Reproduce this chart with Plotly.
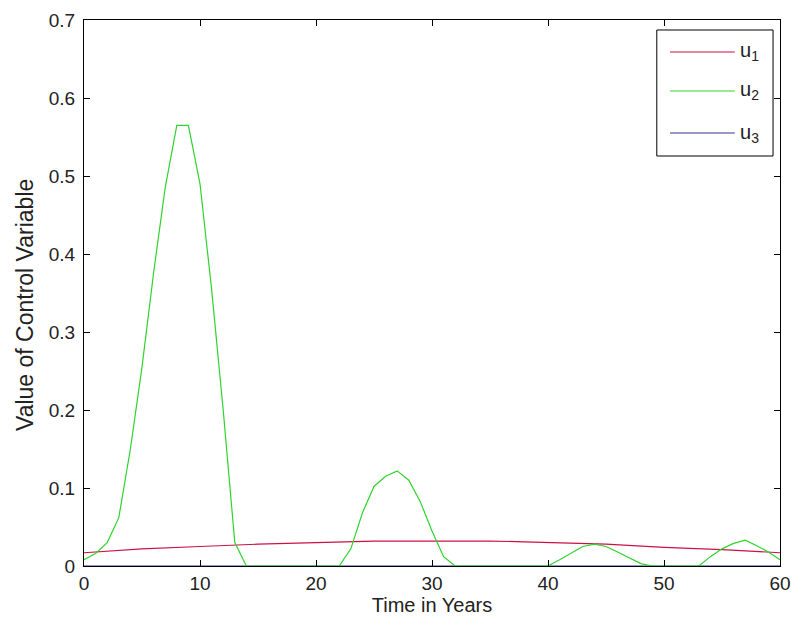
import plotly.graph_objects as go

# ---- data ----
t_u1 = [0, 2, 5, 10, 15, 20, 25, 30, 35, 38, 40, 45, 50, 55, 60]
u1 = [0.017, 0.019, 0.022, 0.025, 0.028, 0.030, 0.032, 0.032, 0.032, 0.031, 0.030, 0.028, 0.024, 0.021, 0.017]

t_u2 = list(range(0, 61))
u2 = [0.008, 0.016, 0.030, 0.062, 0.150, 0.255, 0.376, 0.485, 0.565, 0.565,
      0.490, 0.355, 0.200, 0.030, 0.0, 0.0, 0.0, 0.0, 0.0, 0.0,
      0.0, 0.0, 0.0, 0.022, 0.068, 0.102, 0.115, 0.122, 0.110, 0.082,
      0.045, 0.012, 0.0, 0.0, 0.0, 0.0, 0.0, 0.0, 0.0, 0.0,
      0.0, 0.008, 0.017, 0.025, 0.028, 0.025, 0.018, 0.010, 0.003, 0.0,
      0.0, 0.0, 0.0, 0.0, 0.012, 0.022, 0.029, 0.033, 0.026, 0.018,
      0.008]

t_u3 = [0, 60]
u3 = [0.0, 0.0]

x_ticks = [0, 10, 20, 30, 40, 50, 60]
y_ticks = [0, 0.1, 0.2, 0.3, 0.4, 0.5, 0.6, 0.7]
y_tick_text = ["0", "0.1", "0.2", "0.3", "0.4", "0.5", "0.6", "0.7"]

names = ["u<sub>1</sub>", "u<sub>2</sub>", "u<sub>3</sub>"]
colors = ["#cc1144", "#2ed42e", "#30309a"]

FONT = "Liberation Sans, Arial, sans-serif"
TXT = "#222222"

fig = go.Figure()
fig.add_trace(go.Scatter(x=t_u3, y=u3, mode="lines", line=dict(color=colors[2], width=1.2), name=names[2]))
fig.add_trace(go.Scatter(x=t_u1, y=u1, mode="lines", line=dict(color=colors[0], width=1.2), name=names[0]))
fig.add_trace(go.Scatter(x=t_u2, y=u2, mode="lines", line=dict(color=colors[1], width=1.2), name=names[1]))

axis_common = dict(showgrid=False, zeroline=False, showline=True, linecolor="black", linewidth=1,
                   mirror="ticks", ticks="inside", ticklen=6, tickcolor="black", automargin=False,
                   tickfont=dict(family=FONT, size=19, color=TXT))

fig.update_xaxes(range=[0, 60], tickvals=x_ticks,
                 title=dict(text="Time in Years", font=dict(family=FONT, size=20, color=TXT), standoff=2),
                 **axis_common)
fig.update_yaxes(range=[0, 0.7], tickvals=y_ticks, ticktext=y_tick_text, ticklabelstandoff=4,
                 **axis_common)

# y-axis label (placed slightly below the axis centre, as in the reference)
fig.add_annotation(xref="paper", yref="paper", x=-0.0848, y=0.478, text="Value of Control Variable",
                   textangle=-90, showarrow=False, xanchor="center", yanchor="middle",
                   font=dict(family=FONT, size=23, color=TXT))

# legend drawn as a boxed key in the upper right
x0, x1 = 0.823, 0.990
y_top, y_bot = 0.9817, 0.7509
fig.add_shape(type="rect", xref="paper", yref="paper", x0=x0, x1=x1, y0=y_bot, y1=y_top,
              line=dict(color="black", width=1), fillcolor="white", layer="above")
entry_y = [0.9414, 0.8700, 0.7930]
for nm, col, yy in zip(names, colors, entry_y):
    fig.add_shape(type="line", xref="paper", yref="paper", x0=0.842, x1=0.935, y0=yy, y1=yy,
                  line=dict(color=col, width=1.2), layer="above")
    fig.add_annotation(xref="paper", yref="paper", x=0.9397, y=yy, text=nm, showarrow=False,
                       xanchor="left", yanchor="middle",
                       font=dict(family=FONT, size=20, color=TXT))

fig.update_layout(width=791, height=625, showlegend=False,
                  margin=dict(l=84, r=11, t=20, b=59),
                  paper_bgcolor="white", plot_bgcolor="white")

# remove the default page margin so the figure fills the window exactly
fig.write_html("out.html", config={"displayModeBar": False},
               post_script="document.body.style.margin='0';document.body.style.overflow='hidden';")
